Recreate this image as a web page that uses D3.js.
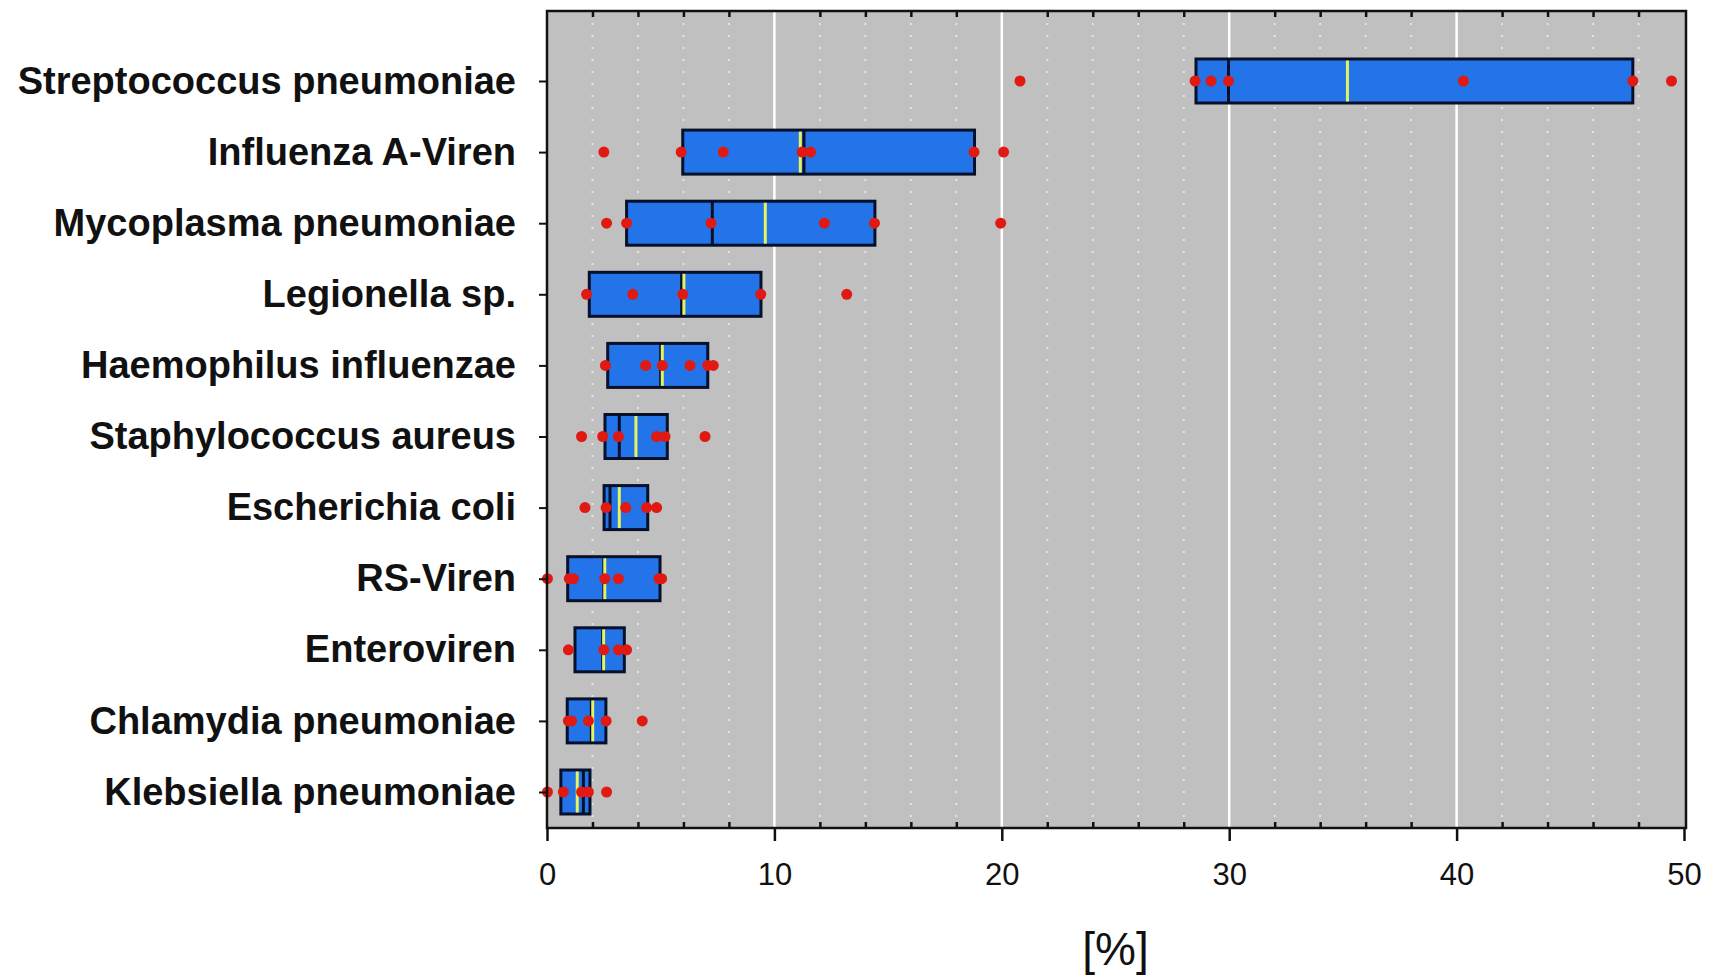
<!DOCTYPE html>
<html>
<head>
<meta charset="utf-8">
<script src="https://cdn.jsdelivr.net/npm/d3@7"></script>
<style>
  body { margin: 0; background: #fff; }
  svg { display: block; font-family: "Liberation Sans", Arial, sans-serif; }
  .cat text { font-size: 38px; font-weight: bold; fill: #111; }
  .xmaj text { font-size: 31px; fill: #111; }
</style>
</head>
<body>
<div id="chart"></div>
<script>
// categories, top to bottom
const categories = ["Streptococcus pneumoniae", "Influenza A-Viren", "Mycoplasma pneumoniae",
  "Legionella sp.", "Haemophilus influenzae", "Staphylococcus aureus", "Escherichia coli",
  "RS-Viren", "Enteroviren", "Chlamydia pneumoniae", "Klebsiella pneumoniae"];

// box limits, median (black) and mean (yellow), in %
const q1     = [28.54, 5.97, 3.5, 1.86, 2.67, 2.55, 2.51, 0.91, 1.23, 0.89, 0.61];
const q3     = [47.75, 18.8, 14.42, 9.41, 7.07, 5.29, 4.43, 4.97, 3.4, 2.59, 1.89];
const median = [29.97, 11.3, 7.27, 5.92, 5.0, 3.18, 2.77, 2.5, 2.45, 1.95, 1.6];
const mean   = [35.2, 11.14, 9.6, 6.02, 5.07, 3.91, 3.18, 2.54, 2.49, 2.01, 1.33];

// single study values per category
const studies = [
  [20.8, 28.5, 29.2, 29.97, 40.3, 47.75, 49.45],
  [2.5, 5.9, 7.75, 11.22, 11.59, 18.78, 20.08],
  [2.62, 3.5, 7.21, 12.2, 14.4, 19.95],
  [1.74, 3.77, 5.97, 9.4, 13.18],
  [2.57, 4.34, 5.07, 6.29, 7.07, 7.31],
  [1.52, 2.45, 3.14, 4.82, 5.19, 6.95],
  [1.67, 2.6, 3.46, 4.38, 4.82],
  [0.02, 0.98, 1.16, 2.54, 3.14, 4.92, 5.04],
  [0.94, 2.5, 3.14, 3.5],
  [0.94, 1.08, 1.82, 2.6, 4.19],
  [0.02, 0.72, 1.52, 1.82, 2.62]
];

const majorTicks = [0, 10, 20, 30, 40, 50];
const minorTicks = [2, 4, 6, 8, 12, 14, 16, 18, 22, 24, 26, 28, 32, 34, 36, 38, 42, 44, 46, 48];
const xTitle = "[%]";

const width = 1715, height = 976;
const plot = {left: 547, right: 1686, top: 11, bottom: 828};

const svg = d3.select("#chart").append("svg")
    .attr("width", width).attr("height", height);

const x = d3.scaleLinear([0, 50], [plot.left, 1684]);
const y = d3.scalePoint(categories, [81, 792]);

// background
svg.append("rect")
    .attr("x", plot.left).attr("y", plot.top)
    .attr("width", plot.right - plot.left).attr("height", plot.bottom - plot.top)
    .attr("fill", "#c0c0c0");

// grid: dotted minor, solid major
svg.append("g").selectAll("line").data(minorTicks).join("line")
    .attr("x1", d => x(d)).attr("x2", d => x(d))
    .attr("y1", plot.top).attr("y2", plot.bottom)
    .attr("stroke", "#fff").attr("stroke-width", 2)
    .attr("stroke-dasharray", "2,10").attr("opacity", 0.6);
svg.append("g").selectAll("line").data(majorTicks.slice(1, -1)).join("line")
    .attr("x1", d => x(d)).attr("x2", d => x(d))
    .attr("y1", plot.top).attr("y2", plot.bottom)
    .attr("stroke", "#fff").attr("stroke-width", 2.5);

// boxes
const rows = categories.map((c, i) => ({c, q1: q1[i], q3: q3[i], med: median[i], mean: mean[i], pts: studies[i]}));
const boxH = 44;
const g = svg.append("g").selectAll("g").data(rows).join("g")
    .attr("transform", d => `translate(0,${y(d.c)})`);

g.append("rect")
    .attr("x", d => x(d.q1)).attr("width", d => x(d.q3) - x(d.q1))
    .attr("y", -boxH / 2).attr("height", boxH)
    .attr("fill", "#2274e8").attr("stroke", "#07102a").attr("stroke-width", 3);
g.append("line")
    .attr("x1", d => x(d.med)).attr("x2", d => x(d.med))
    .attr("y1", -boxH / 2).attr("y2", boxH / 2)
    .attr("stroke", "#07102a").attr("stroke-width", 3);
g.append("line")
    .attr("x1", d => x(d.mean)).attr("x2", d => x(d.mean))
    .attr("y1", -boxH / 2 + 1.5).attr("y2", boxH / 2 - 1.5)
    .attr("stroke", "#e6f25e").attr("stroke-width", 3);
g.selectAll("circle").data(d => d.pts).join("circle")
    .attr("cx", d => x(d)).attr("cy", 0).attr("r", 5.5)
    .attr("fill", "#e01a12");

// axes
svg.append("g").attr("class", "xmaj")
    .attr("transform", `translate(0,${plot.bottom})`)
    .call(d3.axisBottom(x).tickValues(majorTicks).tickSize(13).tickSizeOuter(0).tickPadding(22))
    .call(a => a.select(".domain").remove())
    .call(a => a.selectAll("line").attr("stroke", "#111").attr("stroke-width", 2.5));
svg.append("g")
    .attr("transform", `translate(0,${plot.bottom})`)
    .call(d3.axisBottom(x).tickValues(minorTicks).tickSize(-6).tickFormat(""))
    .call(a => a.select(".domain").remove())
    .call(a => a.selectAll("line").attr("stroke", "#111").attr("stroke-width", 2.5));
svg.append("g")
    .attr("transform", `translate(0,${plot.top})`)
    .call(d3.axisTop(x).tickValues(minorTicks).tickSize(-6).tickFormat(""))
    .call(a => a.select(".domain").remove())
    .call(a => a.selectAll("line").attr("stroke", "#111").attr("stroke-width", 2.5));
svg.append("g").attr("class", "cat")
    .attr("transform", `translate(${plot.left},0)`)
    .call(d3.axisLeft(y).tickSize(8).tickPadding(23))
    .call(a => a.select(".domain").remove())
    .call(a => a.selectAll("line").attr("stroke", "#111").attr("stroke-width", 2));

// frame
svg.append("rect")
    .attr("x", plot.left).attr("y", plot.top)
    .attr("width", plot.right - plot.left).attr("height", plot.bottom - plot.top)
    .attr("fill", "none").attr("stroke", "#111").attr("stroke-width", 2.5);

svg.append("text")
    .attr("x", (plot.left + 1684) / 2).attr("y", 965)
    .attr("text-anchor", "middle")
    .style("font-size", "46px").style("fill", "#111")
    .text(xTitle);
</script>
</body>
</html>
